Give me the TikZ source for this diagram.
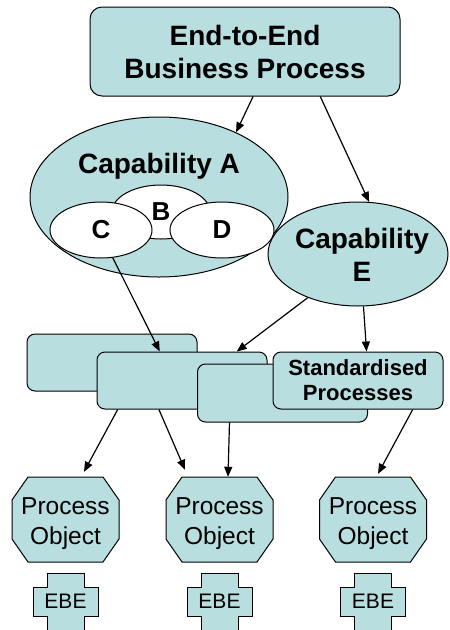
\documentclass[tikz,border=0pt]{standalone}
\usepackage{fontspec}
\setmainfont{Liberation Sans}
\usetikzlibrary{shapes.geometric,arrows.meta,calc}
\definecolor{boxfill}{RGB}{185,222,224}

\newcommand{\ebecross}[1]{%
  \draw [black, fill=boxfill, line width=1pt] (#1) ++(-18.5,-28.5) -- ++(37,0) -- ++(0,14) -- ++(14,0)
    -- ++(0,29) -- ++(-14,0) -- ++(0,14) -- ++(-37,0) -- ++(0,-14) -- ++(-14,0)
    -- ++(0,-29) -- ++(14,0) -- cycle;}
\newcommand{\octagon}[1]{%
  \draw [black, fill=boxfill, line width=1pt] (#1) ++(-37.5,-42.5) -- ++(75,0) -- ++(16,23)
    -- ++(0,39) -- ++(-16,23) -- ++(-75,0) -- ++(-16,-23) -- ++(0,-39) -- cycle;}

\begin{document}
\begin{tikzpicture}[x=1pt,y=-1pt,
  every node/.style={inner sep=0pt},
  filled/.style={draw=black, fill=boxfill, line width=1pt},
  bigtext/.style={font=\bfseries\fontsize{28}{33}\selectfont, align=center},
  procbox/.style={filled, rectangle, rounded corners=8pt, minimum width=170pt, minimum height=57pt},
  capell/.style={filled, ellipse},
  subell/.style={draw=black, fill=white, line width=1pt, ellipse, font=\bfseries\fontsize{26}{30}\selectfont},
  procobj/.style={rectangle, minimum width=107pt, minimum height=85pt, align=center,
    font=\fontsize{24.5}{30}\selectfont},
  ebetext/.style={font=\fontsize{21}{25}\selectfont},
  arr/.style={-{Triangle[length=10pt,width=8pt]}, line width=1.2pt}]
\useasboundingbox (0,0) rectangle (450,630);

\node (topbox) [filled, rounded corners=12pt, minimum width=310pt, minimum height=89pt, bigtext] at (245,51.5)
  {End-to-End\\Business Process};

% capabilities
\node (capA) [capell, minimum width=258pt, minimum height=160pt] at (159,197) {};
\node (capAtxt) [bigtext, anchor=base] at (159,173) {Capability A};
\node (capB) [subell, minimum width=98pt, minimum height=54pt] at (161,212) {B};
\node (capC) [subell, minimum width=102pt, minimum height=56pt] at (101,230) {C};
\node (capD) [subell, minimum width=104pt, minimum height=56pt] at (222,230) {D};
\node (capE) [capell, minimum width=180pt, minimum height=104pt] at (358,254) {};
\node (capEtxt) [bigtext] at (362,255) {Capability\\E};

% processes
\node (proc1) [procbox] at (112,362.5) {};
\node (proc2) [procbox] at (182,380.5) {};
\node (proc3) [procbox, minimum height=58pt] at (282.5,393) {};
\node (std) [procbox, font=\bfseries\fontsize{22}{25}\selectfont, align=center] at (358,380.5)
  {Standardised\\Processes};

\octagon{65.5,519.5}
\node (obj1) [procobj] at (65.5,523.5) {Process\\Object};
\octagon{219.5,519.5}
\node (obj2) [procobj] at (219.5,523.5) {Process\\Object};
\octagon{373,519.5}
\node (obj3) [procobj] at (373,523.5) {Process\\Object};

\ebecross{65.5,601.5}
\node (ebe1) [ebetext] at (65.5,601.5) {EBE};
\ebecross{219.5,601.5}
\node (ebe2) [ebetext] at (219.5,601.5) {EBE};
\ebecross{373,601.5}
\node (ebe3) [ebetext] at (373,601.5) {EBE};

% arrows
\draw [arr] ($(topbox.south west)!0.526!(topbox.south east)$) -- (capA.40);
\draw [arr] ($(topbox.south west)!0.742!(topbox.south east)$) -- (capE.78);
\draw [arr] (capC.293) -- ($(proc2.north west)!0.37!(proc2.north east)$);
\draw [arr] (capE.221) -- ($(proc2.north west)!0.82!(proc2.north east)$);
\draw [arr] (capE.276) -- ($(std.north west)!0.55!(std.north east)$);
\draw [arr] ($(proc2.south west)!0.124!(proc2.south east)$) -- ($(obj1.north)+(18.5,-9)$);
\draw [arr] ($(proc2.south west)!0.365!(proc2.south east)$) -- ($(obj2.north)+(-34.5,-11)$);
\draw [arr] ($(proc3.south west)!0.19!(proc3.south east)$) -- ($(obj2.north)+(8.5,-4)$);
\draw [arr] ($(std.south west)!0.82!(std.south east)$) -- ($(obj3.north)+(5,-7)$);
\end{tikzpicture}
\end{document}
